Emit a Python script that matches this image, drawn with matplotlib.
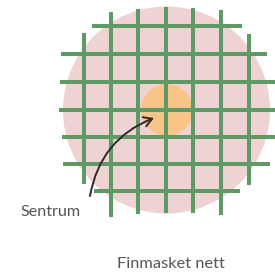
import matplotlib
matplotlib.use("Agg")
import matplotlib.pyplot as plt
from matplotlib.patches import Circle, FancyArrowPatch

# Mesh data (pixel space of the drawing)
v_x = [84, 111, 138, 165.5, 193, 221, 249]
v_top = [33, 12, 9, 7, 8, 10, 34]
v_bottom = [184, 217, 214, 213, 213, 215, 185]

h_y = [26, 54, 82, 110, 137, 164, 191]
h_left = [92, 61, 60, 59, 62, 63, 94]
h_right = [242, 267, 280, 280, 280, 270, 240]

outer_center = (166.5, 110)
outer_radius = 103.5
inner_center = (167, 110)
inner_radius = 26

labels = ["Sentrum", "Finmasket nett"]

W, H = 275, 278
fig = plt.figure(figsize=(W / 100, H / 100), dpi=100)
ax = fig.add_axes([0, 0, 1, 1])
ax.set_xlim(0, W)
ax.set_ylim(H, 0)
ax.axis("off")

pink = "#efd2d2"
orange = "#f9c488"
green = "#5f9a66"
textc = "#555555"

ax.add_patch(Circle(outer_center, outer_radius, facecolor=pink, edgecolor="none", zorder=1))
ax.add_patch(Circle(inner_center, inner_radius, facecolor=orange, edgecolor="none", zorder=2))

lw = 2.9
for x, t, b in zip(v_x, v_top, v_bottom):
    ax.plot([x, x], [t, b], color=green, lw=lw, solid_capstyle="butt", zorder=3)
for y, l, r in zip(h_y, h_left, h_right):
    ax.plot([l, r], [y, y], color=green, lw=lw, solid_capstyle="butt", zorder=3)

arrow = FancyArrowPatch((90, 196), (154, 118), connectionstyle="arc3,rad=-0.28",
                        arrowstyle="->,head_length=6,head_width=3.5", color="#2b2b2b",
                        lw=1.4, zorder=5, shrinkA=0, shrinkB=0)
ax.add_patch(arrow)

font = dict(family=["Lato", "DejaVu Sans"], weight="normal", color=textc)
ax.text(20, 216, labels[0], fontsize=11.6, ha="left", va="baseline", **font)
ax.text(117, 267.5, labels[1], fontsize=11.8, ha="left", va="baseline", **font)

fig.savefig("out.png", dpi=100)
